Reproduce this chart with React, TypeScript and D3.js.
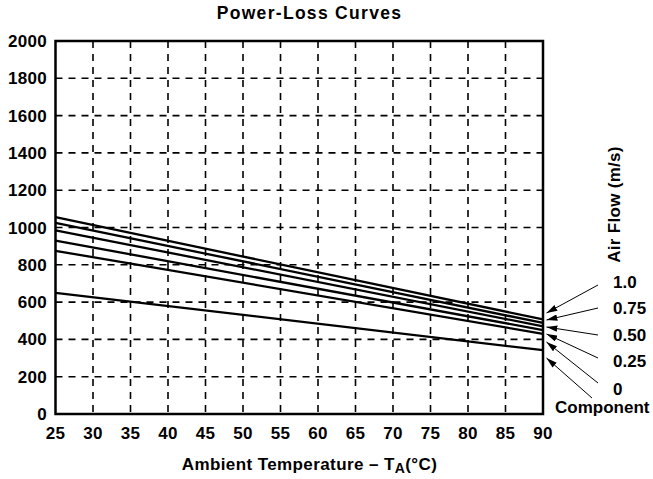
import React from "react";
import * as d3 from "d3";

const xTicks = [25, 30, 35, 40, 45, 50, 55, 60, 65, 70, 75, 80, 85, 90];
const yTicks = [0, 200, 400, 600, 800, 1000, 1200, 1400, 1600, 1800, 2000];
const seriesNames = ["1.0", "0.75", "0.50", "0.25", "0", "Component"];
const valuesAt25 = [1055, 1025, 985, 930, 875, 650];
const valuesAt90 = [507, 488, 470, 450, 430, 342];
// annotation arrows: label baselines, arrow tails and arrow tips (pixel positions of callouts)
const labelBaseline = [288, 314, 341, 367, 395, 413];
const labelX = [613, 613, 613, 613, 613, 555];
const arrowTail: [number, number][] = [[598, 285], [598, 308], [598, 335], [598, 358], [598, 383], [592, 398]];
const arrowTipY = [313, 320, 327, 334, 342, 358];

export default function App() {
  const W = 653, H = 479;
  const left = 55.5, right = 543, top = 41, bottom = 414;
  const x = d3.scaleLinear().domain([25, 90]).range([left, right]);
  const y = d3.scaleLinear().domain([0, 2000]).range([bottom, top]);
  const line = d3.line<[number, number]>().x(d => x(d[0])).y(d => y(d[1]));
  const font = "'Liberation Sans', Arial, Helvetica, sans-serif";

  return (
    <svg width={W} height={H} style={{ position: "absolute", left: 0, top: 0, background: "#fff" }} fontFamily={font}>
      <defs>
        <marker id="ah" viewBox="0 0 10 6" refX="10" refY="3" markerWidth="11" markerHeight="6.5" markerUnits="userSpaceOnUse" orient="auto">
          <path d="M0,0 L10,3 L0,6 z" fill="#000" />
        </marker>
      </defs>
      <text x={309.5} y={19} textAnchor="middle" fontSize={17.5} fontWeight="bold" letterSpacing={1.3}>Power-Loss Curves</text>
      {xTicks.slice(1, -1).map(t => (
        <line key={"vx" + t} x1={x(t)} x2={x(t)} y1={top} y2={bottom} stroke="#000" strokeWidth={1.6} strokeDasharray="7,6" />
      ))}
      {yTicks.slice(1, -1).map(t => (
        <line key={"hy" + t} x1={left} x2={right} y1={y(t)} y2={y(t)} stroke="#000" strokeWidth={1.6} strokeDasharray="7,6" />
      ))}
      <rect x={left} y={top} width={right - left} height={bottom - top} fill="none" stroke="#000" strokeWidth={2.5} />
      {xTicks.map(t => (
        <text key={"xl" + t} x={x(t)} y={439} textAnchor="middle" fontSize={17} fontWeight="bold" letterSpacing={0.3}>{t}</text>
      ))}
      {yTicks.map(t => (
        <text key={"yl" + t} x={47} y={y(t) + 6} textAnchor="end" fontSize={17} fontWeight="bold" letterSpacing={0.3}>{t}</text>
      ))}
      {seriesNames.map((n, i) => (
        <path key={"s" + n} d={line([[25, valuesAt25[i]], [90, valuesAt90[i]]]) || ""} fill="none" stroke="#000" strokeWidth={2.3} />
      ))}
      {seriesNames.map((n, i) => (
        <g key={"a" + n}>
          <line x1={arrowTail[i][0]} y1={arrowTail[i][1]} x2={right + 3.5} y2={arrowTipY[i]} stroke="#000" strokeWidth={1} markerEnd="url(#ah)" />
          <text x={labelX[i]} y={labelBaseline[i]} fontSize={17} fontWeight="bold">{n}</text>
        </g>
      ))}
      <text transform="translate(620,204.5) rotate(-90)" textAnchor="middle" fontSize={17} fontWeight="bold" letterSpacing={0.3}>Air Flow (m/s)</text>
      <text x={309.5} y={470} textAnchor="middle" fontSize={17} fontWeight="bold" letterSpacing={0.4}>
        Ambient Temperature – T<tspan fontSize={14} dy={3}>A</tspan><tspan dy={-3}>(°C)</tspan>
      </text>
    </svg>
  );
}
